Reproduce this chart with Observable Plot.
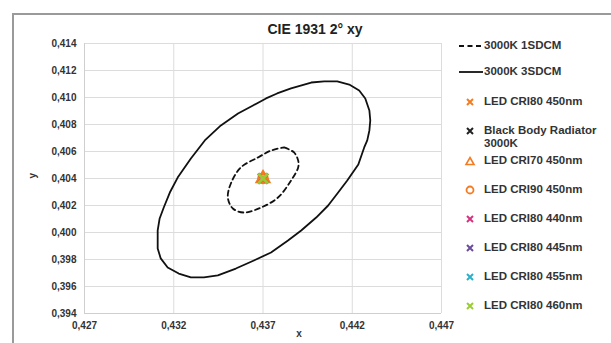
<!DOCTYPE html>
<html><head><meta charset="utf-8">
<script src="https://cdn.jsdelivr.net/npm/d3@7"></script>
<script src="https://cdn.jsdelivr.net/npm/@observablehq/plot@0.6"></script>
<style>
html,body{margin:0;padding:0;background:#fff;}
#wrap{position:relative;width:611px;height:343px;overflow:hidden;font-family:"Liberation Sans",Arial,sans-serif;font-weight:bold;color:#333;}
#border{position:absolute;left:12px;top:13px;width:620px;height:360px;border:2px solid #9a9a9a;box-sizing:border-box;}
#title{position:absolute;left:215px;width:200px;top:21px;text-align:center;font-size:14px;color:#222;}
#legend{position:absolute;left:455px;top:0;font-size:11.5px;}
.item{position:absolute;left:0;white-space:nowrap;}
.item svg{position:absolute;left:0;top:-6px;}
.item span{position:absolute;left:29px;top:-7px;line-height:13px;}
#chart{position:absolute;left:0;top:0;}
</style></head>
<body><div id="wrap"><div id="border"></div><div id="chart"></div><div id="title">CIE 1931 2° xy</div><div id="legend"></div></div>
<script>
const xTicks = [0.427, 0.432, 0.437, 0.442, 0.447];
const yTicks = [0.394, 0.396, 0.398, 0.400, 0.402, 0.404, 0.406, 0.408, 0.410, 0.412, 0.414];

// 3000K 3SDCM ellipse (outer, solid)
const sdcm3X = [0.44116,0.44183,0.44239,0.44273,0.44296,0.44301,0.44296,0.44284,0.44267,0.44234,0.44172,0.44121,0.44065,0.43998,0.43914,0.43840,0.43745,0.43649,0.43548,0.43447,0.43369,0.43296,0.43228,0.43166,0.43127,0.43110,0.43110,0.43121,0.43144,0.43178,0.43222,0.43296,0.43374,0.43464,0.43560,0.43644,0.43717,0.43779,0.43857,0.43970,0.44043,0.44116];
const sdcm3Y = [0.41119,0.41096,0.41052,0.40993,0.40904,0.40830,0.40756,0.40682,0.40630,0.40504,0.40385,0.40296,0.40200,0.40111,0.40015,0.39941,0.39852,0.39793,0.39733,0.39682,0.39667,0.39667,0.39696,0.39741,0.39808,0.39882,0.40015,0.40104,0.40185,0.40296,0.40407,0.40548,0.40682,0.40793,0.40882,0.40941,0.40993,0.41030,0.41067,0.41111,0.41119,0.41119];

// 3000K 1SDCM ellipse (inner, dashed)
const sdcm1X = [0.43818,0.43874,0.43897,0.43897,0.43857,0.43784,0.43689,0.43593,0.43531,0.43503,0.43520,0.43576,0.43672,0.43745,0.43818];
const sdcm1Y = [0.40630,0.40593,0.40533,0.40482,0.40385,0.40259,0.40185,0.40148,0.40178,0.40259,0.40363,0.40482,0.40556,0.40607,0.40630];

// Measured points
const pointNames  = ["LED CRI80 450nm","Black Body Radiator 3000K","LED CRI70 450nm","LED CRI90 450nm","LED CRI80 440nm","LED CRI80 445nm","LED CRI80 455nm","LED CRI80 460nm"];
const pointX      = [0.4370,0.4370,0.4370,0.4370,0.4370,0.4370,0.4370,0.4370];
const pointY      = [0.4040,0.4040,0.4040,0.4040,0.4040,0.4040,0.4040,0.4040];
const pointSymbol = ["times","times","triangle","circle","times","times","times","times"];
const pointColor  = ["#f47b20","#222222","#f47b20","#f47b20","#d6337f","#6a4c9c","#2bb0c9","#9acd32"];

const ring3 = sdcm3X.map((x,i)=>({x, y: sdcm3Y[i]}));
const ring1 = sdcm1X.map((x,i)=>({x, y: sdcm1Y[i]}));
const pts = pointNames.map((n,i)=>({name:n, x:pointX[i], y:pointY[i], s:pointSymbol[i], c:pointColor[i]}));
const drawOrder = [2,3,1,4,5,6,0,7].map(i=>pts[i]);
const comma = v => d3.format(".3f")(v).replace(".", ",");

const plot = Plot.plot({
  width: 611, height: 343,
  marginLeft: 84, marginRight: 170, marginTop: 43, marginBottom: 30,
  style: {fontFamily: '"Liberation Sans", Arial, sans-serif', fontWeight: "bold", fontSize: "10px", color: "#333", background: "transparent"},
  x: {domain: [0.427, 0.447], ticks: xTicks, tickFormat: comma, label: null},
  y: {domain: [0.394, 0.414], ticks: yTicks, tickFormat: comma, label: null},
  marks: [
    Plot.gridX(xTicks, {stroke: "#dcdcdc", strokeOpacity: 1}),
    Plot.gridY(yTicks, {stroke: "#dcdcdc", strokeOpacity: 1}),
    Plot.ruleX([0.427], {stroke: "#cfcfcf"}),
    Plot.ruleY([0.394], {stroke: "#cfcfcf"}),
    Plot.axisX(xTicks, {tickSize: 0, tickPadding: 8, tickFormat: comma, fill: "#333"}),
    Plot.axisY(yTicks, {tickSize: 0, tickPadding: 8, tickFormat: comma, fill: "#333"}),
    Plot.text(["x"], {frameAnchor: "bottom", dx: 36, dy: 23, fontSize: 10, fill: "#333"}),
    Plot.text(["y"], {frameAnchor: "left", dx: -52, rotate: -90, fontSize: 10, fill: "#333"}),
    Plot.line(ring3, {x: "x", y: "y", stroke: "#111", strokeWidth: 1.8, strokeLinejoin: "round"}),
    Plot.line(ring1, {x: "x", y: "y", stroke: "#111", strokeWidth: 1.8, strokeDasharray: "5,3.5", curve: "catmull-rom"}),
    Plot.dot(drawOrder, {x: "x", y: "y", symbol: "s", stroke: "c", r: 4.5, strokeWidth: 2.6, fill: "none"})
  ]
});
document.getElementById("chart").appendChild(plot);

// Legend
const legendItems = [
  {label:"3000K 1SDCM", y:46, kind:"dash"},
  {label:"3000K 3SDCM", y:72, kind:"solid"},
  ...pts.map((p,i)=>({label:p.name, y:[102,131,161,190,219,248,277,306][i], kind:p.s, color:p.c}))
];
const leg = document.getElementById("legend");
for (const it of legendItems) {
  const d = document.createElement("div");
  d.className = "item";
  d.style.top = it.y + "px";
  let sym = "";
  if (it.kind === "dash") sym = `<line x1="4" y1="6" x2="26" y2="6" stroke="#111" stroke-width="1.8" stroke-dasharray="5,3.5"/>`;
  else if (it.kind === "solid") sym = `<line x1="4" y1="6" x2="28" y2="6" stroke="#111" stroke-width="1.8"/>`;
  else if (it.kind === "times") sym = `<path d="M12,3L18,9M18,3L12,9" stroke="${it.color}" stroke-width="2"/>`;
  else if (it.kind === "triangle") sym = `<path d="M15,2.5L19,9.5L11,9.5Z" stroke="${it.color}" stroke-width="1.6" fill="none"/>`;
  else if (it.kind === "circle") sym = `<circle cx="15" cy="6" r="3.5" stroke="${it.color}" stroke-width="1.8" fill="none"/>`;
  let label = it.label === "Black Body Radiator 3000K" ? "Black Body Radiator<br>3000K" : it.label;
  d.innerHTML = `<svg width="30" height="12">${sym}</svg><span>${label}</span>`;
  leg.appendChild(d);
}
</script></body></html>
